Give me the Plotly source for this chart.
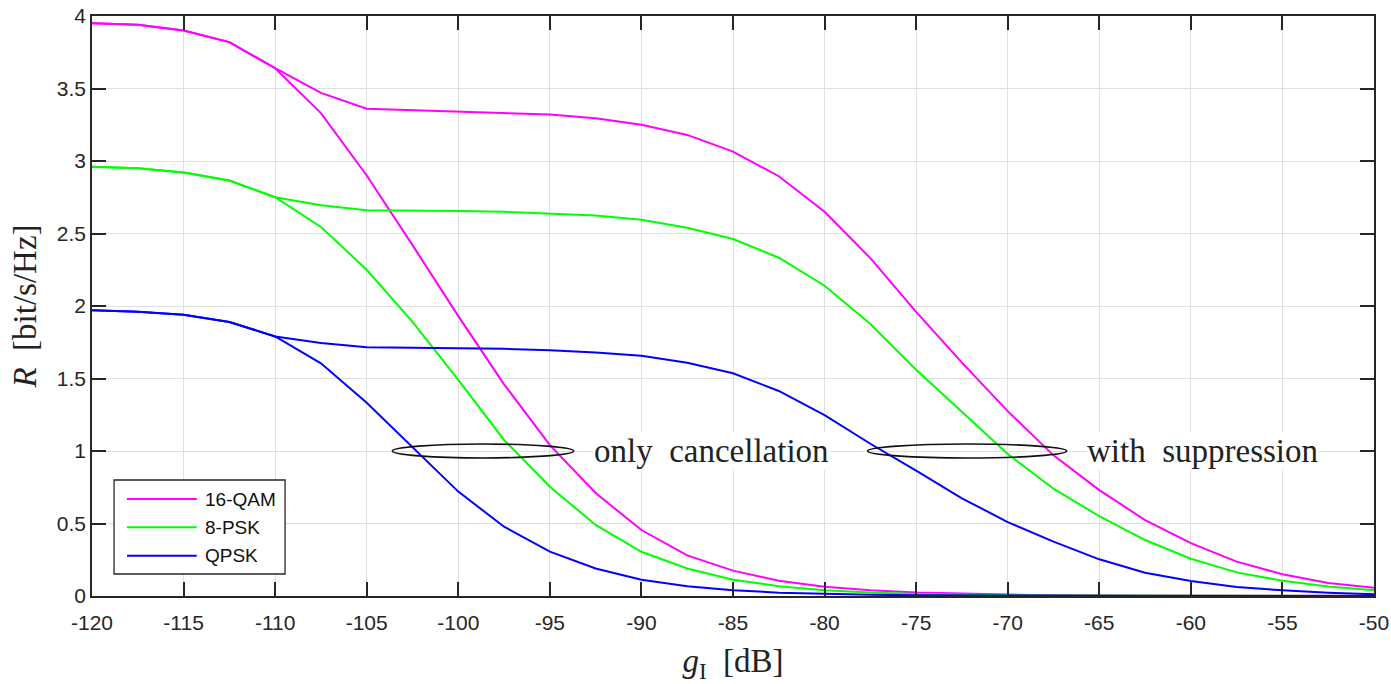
import plotly.graph_objects as go

# Interference gain axis [dB]
g_i_db = [-120, -117.5, -115, -112.5, -110, -107.5, -105, -102.5, -100, -97.5,
          -95, -92.5, -90, -87.5, -85, -82.5, -80, -77.5, -75, -72.5,
          -70, -67.5, -65, -62.5, -60, -57.5, -55, -52.5, -50]

# Achievable rate R [bit/s/Hz], only cancellation
qam16_cancel = [3.95, 3.94, 3.90, 3.82, 3.64, 3.33, 2.90, 2.42, 1.93, 1.46,
                1.04, 0.71, 0.455, 0.28, 0.175, 0.105, 0.064, 0.04, 0.025, 0.015,
                0.01, 0.006, 0.004, 0.003, 0.002, 0.001, 0.001, 0.001, 0.001]
psk8_cancel = [2.96, 2.95, 2.92, 2.865, 2.75, 2.545, 2.25, 1.89, 1.49, 1.076,
               0.754, 0.49, 0.305, 0.19, 0.112, 0.068, 0.04, 0.024, 0.014, 0.008,
               0.005, 0.003, 0.002, 0.001, 0.001, 0.001, 0.0, 0.0, 0.0]
qpsk_cancel = [1.97, 1.96, 1.94, 1.89, 1.79, 1.605, 1.333, 1.03, 0.72, 0.478,
               0.306, 0.19, 0.112, 0.068, 0.04, 0.023, 0.013, 0.008, 0.005, 0.003,
               0.002, 0.001, 0.001, 0.0, 0.0, 0.0, 0.0, 0.0, 0.0]

# Achievable rate R [bit/s/Hz], with suppression
qam16_supp = [3.95, 3.94, 3.90, 3.82, 3.64, 3.47, 3.36, 3.35, 3.345, 3.335,
              3.32, 3.295, 3.25, 3.18, 3.065, 2.895, 2.65, 2.33, 1.96, 1.61,
              1.275, 0.97, 0.73, 0.524, 0.365, 0.237, 0.15, 0.09, 0.057]
psk8_supp = [2.96, 2.95, 2.92, 2.865, 2.75, 2.695, 2.66, 2.66, 2.655, 2.65,
             2.64, 2.625, 2.595, 2.54, 2.462, 2.333, 2.14, 1.876, 1.56, 1.27,
             0.98, 0.74, 0.55, 0.386, 0.257, 0.163, 0.105, 0.065, 0.04]
qpsk_supp = [1.97, 1.96, 1.94, 1.89, 1.79, 1.745, 1.715, 1.712, 1.71, 1.705,
             1.695, 1.68, 1.657, 1.609, 1.536, 1.414, 1.248, 1.05, 0.865, 0.674,
             0.51, 0.375, 0.253, 0.161, 0.103, 0.062, 0.039, 0.022, 0.012]

schemes = ["16-QAM", "8-PSK", "QPSK"]
colors = {"16-QAM": "#ff00ff", "8-PSK": "#00ff00", "QPSK": "#0000ff"}
series = {
    "16-QAM": (qam16_cancel, qam16_supp),
    "8-PSK": (psk8_cancel, psk8_supp),
    "QPSK": (qpsk_cancel, qpsk_supp),
}

x_tick_vals = [-120, -115, -110, -105, -100, -95, -90, -85, -80, -75, -70, -65, -60, -55, -50]
x_tick_text = ["-120", "-115", "-110", "-105", "-100", "-95", "-90", "-85", "-80",
               "-75", "-70", "-65", "-60", "-55", "-50"]
y_tick_vals = [0, 0.5, 1, 1.5, 2, 2.5, 3, 3.5, 4]
y_tick_text = ["0", "0.5", "1", "1.5", "2", "2.5", "3", "3.5", "4"]

AX = "#262626"
GRID = "#dfdfdf"
SANS = "Liberation Sans, Arial, sans-serif"
SERIF = "Liberation Serif, Times New Roman, serif"
SERIF_SIZE = 33

fig = go.Figure()
for name in schemes:
    cancel, supp = series[name]
    for ys in (cancel, supp):
        fig.add_trace(go.Scatter(
            x=g_i_db, y=ys, mode="lines", name=name, showlegend=False,
            line=dict(color=colors[name], width=2),
        ))

# Group markers around the R = 1 crossings
fig.add_shape(type="circle", xref="x", yref="y", x0=-103.6, x1=-93.7, y0=0.952, y1=1.048,
              line=dict(color="#111111", width=1.6))
fig.add_shape(type="circle", xref="x", yref="y", x0=-77.65, x1=-66.78, y0=0.952, y1=1.048,
              line=dict(color="#111111", width=1.6))
fig.add_annotation(x=-92.64, y=1, xref="x", yref="y", xanchor="left", yanchor="middle",
                   text="only\u00a0\u00a0cancellation", showarrow=False, bgcolor="white",
                   borderpad=0, font=dict(family=SERIF, size=SERIF_SIZE, color="#222222"))
fig.add_annotation(x=-65.74, y=1, xref="x", yref="y", xanchor="left", yanchor="middle",
                   text="with\u00a0\u00a0suppression", showarrow=False, bgcolor="white",
                   borderpad=0, font=dict(family=SERIF, size=SERIF_SIZE, color="#222222"))

# Legend box with line samples
L_X0, L_X1, L_Y0, L_Y1 = 0.0172, 0.1506, 0.0379, 0.2
fig.add_shape(type="rect", xref="paper", yref="paper", x0=L_X0, x1=L_X1, y0=L_Y0, y1=L_Y1,
              line=dict(color=AX, width=1.3), fillcolor="white", layer="above")
row_y = [0.1672, 0.1184, 0.0695]
for name, ry in zip(schemes, row_y):
    fig.add_shape(type="line", xref="paper", yref="paper", x0=0.0273, x1=0.0817, y0=ry, y1=ry,
                  line=dict(color=colors[name], width=2), layer="above")
    fig.add_annotation(x=0.0866, y=ry, xref="paper", yref="paper", xanchor="left",
                       yanchor="middle", text=name, showarrow=False,
                       font=dict(family=SANS, size=19, color="#111111"))

axis_common = dict(
    showgrid=True, gridcolor=GRID, gridwidth=1.3, zeroline=False,
    showline=True, linecolor=AX, linewidth=1.5, mirror="ticks",
    ticks="inside", ticklen=14, tickwidth=1.5, tickcolor=AX,
    tickfont=dict(family=SANS, size=21, color=AX), automargin=False,
)
fig.update_xaxes(range=[-120, -50], tickvals=x_tick_vals, ticktext=x_tick_text,
                 ticklabelstandoff=7,
                 title=dict(text="<i>g</i><sub>I</sub>  [dB]",
                            font=dict(family=SERIF, size=SERIF_SIZE, color="#222222"), standoff=29),
                 **axis_common)
fig.update_yaxes(range=[0, 4], tickvals=y_tick_vals, ticktext=y_tick_text,
                 title=dict(text="<i>R</i>  [bit/s/Hz]",
                            font=dict(family=SERIF, size=SERIF_SIZE, color="#222222"), standoff=10),
                 **axis_common)

fig.update_layout(
    width=1391, height=684,
    margin=dict(l=92, r=17, t=16, b=88),
    paper_bgcolor="white", plot_bgcolor="white",
    showlegend=False,
)

fig.write_html("out.html")
